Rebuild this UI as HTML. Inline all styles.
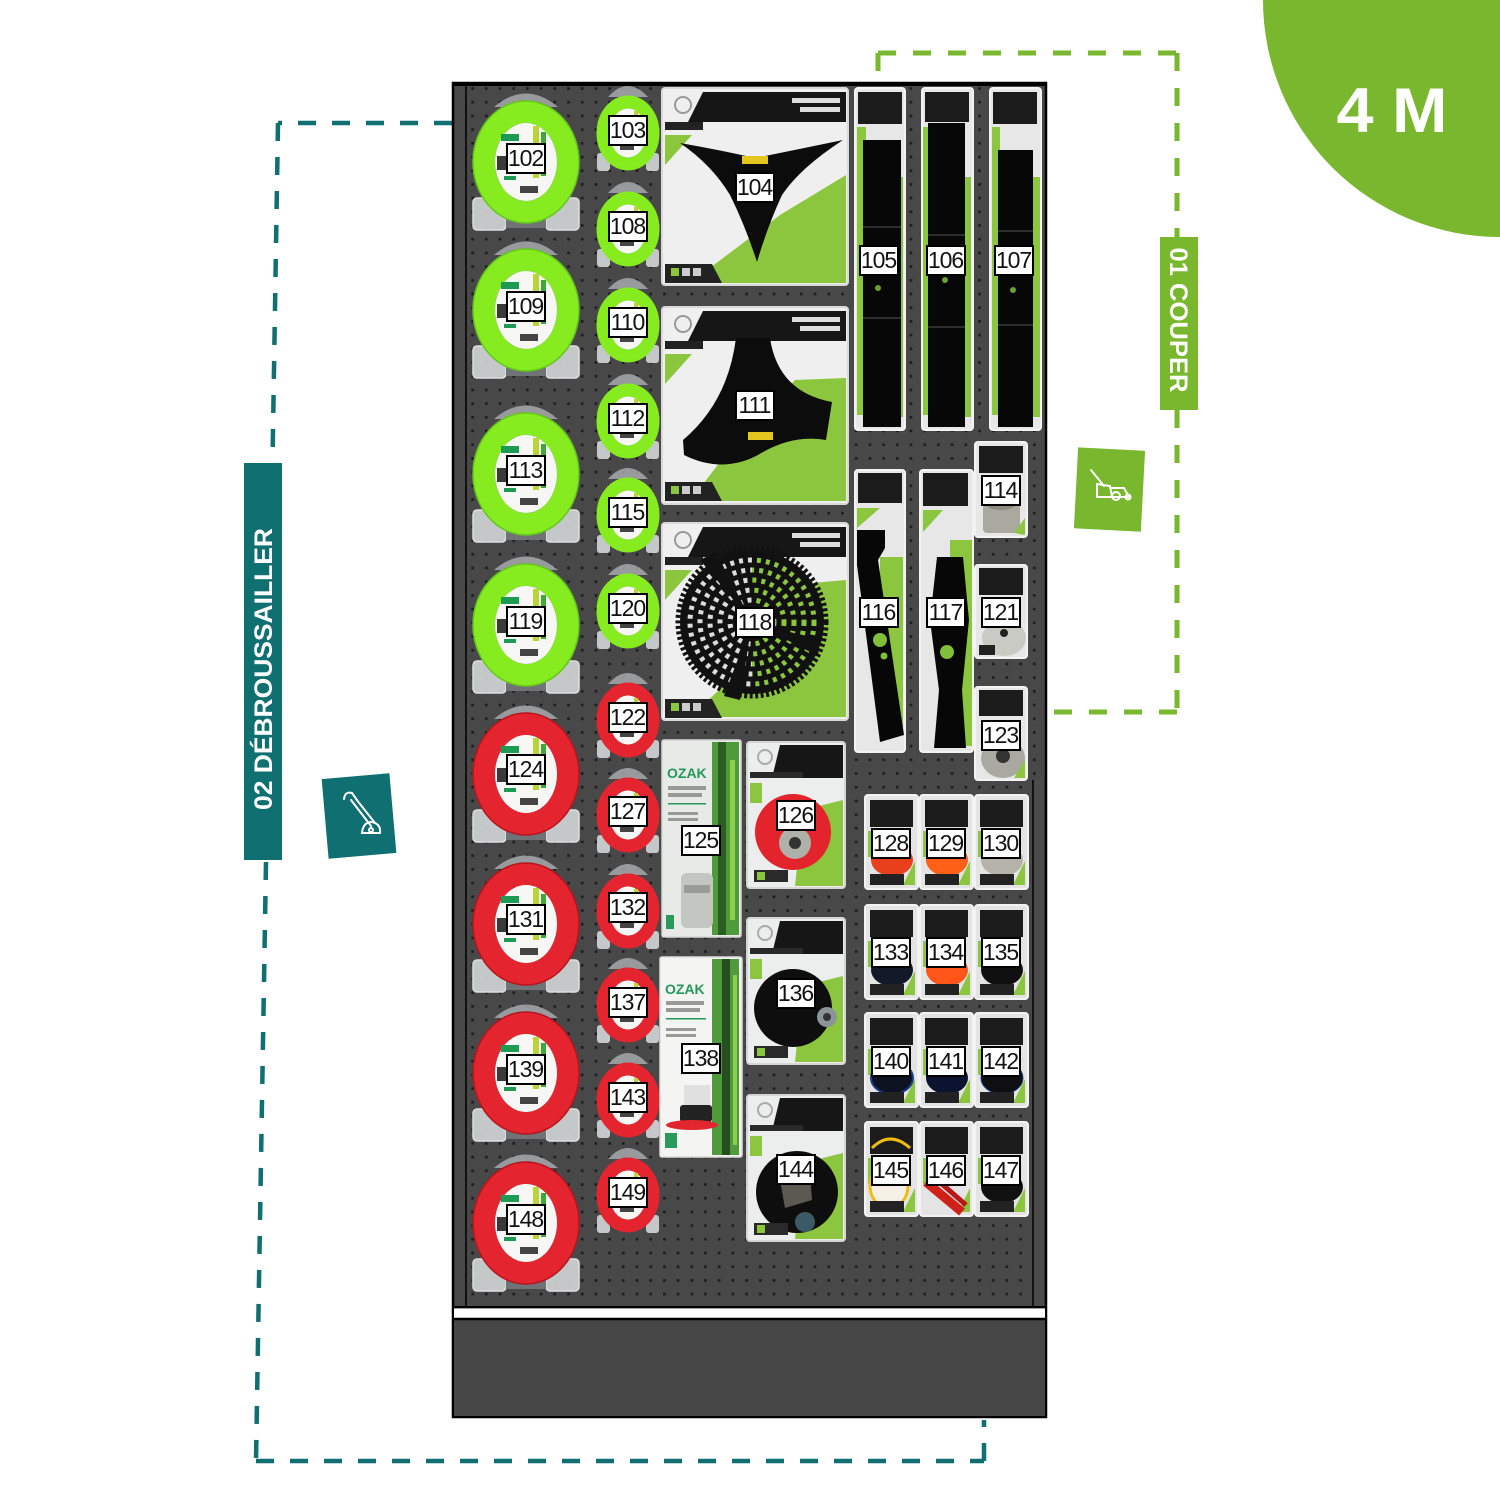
<!DOCTYPE html>
<html><head><meta charset="utf-8"><style>
html,body{margin:0;padding:0;background:#fff;}
.w{position:relative;width:1500px;height:1500px;overflow:hidden;}
svg{position:absolute;left:0;top:0;display:block;}
.w u{position:absolute;display:block;width:36px;height:27px;border:2px solid #000;background:#fff;text-decoration:none;font:23px/27px "Liberation Sans",Arial,sans-serif;color:#111;text-align:center;letter-spacing:-1px;text-indent:-1px;}
</style></head><body><div class="w">
<svg width="1500" height="1500" viewBox="0 0 1500 1500" xmlns="http://www.w3.org/2000/svg">
<defs>
<pattern id="peg" width="13.7" height="13.7" patternUnits="userSpaceOnUse"><rect x="5.5" y="5" width="2.6" height="2.6" fill="#1b1b1b"/></pattern>
<g id="bpk"><path d="M-32,-55 Q0,-82 32,-55 Z" fill="#a7aaad" opacity=".85"/><rect x="-53" y="36" width="33" height="32" rx="4" fill="#d3d6d8" stroke="#eef0f1" stroke-width="1.5" opacity=".9"/><rect x="20" y="36" width="33" height="32" rx="4" fill="#d3d6d8" stroke="#eef0f1" stroke-width="1.5" opacity=".9"/><rect x="-20" y="54" width="40" height="12" fill="#707376"/></g>
<g id="bctr"><ellipse rx="31" ry="39" fill="#f6f7f5"/><rect x="-25" y="-28" width="18" height="7" fill="#1d9b52"/><rect x="7" y="-36" width="6" height="52" fill="#b8d435"/><rect x="15" y="-30" width="5" height="44" fill="#3fa83a"/><rect x="-29" y="-6" width="9" height="14" fill="#3a3a3a"/><rect x="-22" y="14" width="12" height="4" fill="#1d9b52"/><rect x="-6" y="24" width="18" height="7" fill="#444"/></g>
<g id="BG"><use href="#bpk"/><ellipse rx="42" ry="50" fill="none" stroke="#86ec1f" stroke-width="22"/><ellipse rx="53" ry="61" fill="none" stroke="#63c71a" stroke-width="1.5"/><use href="#bctr"/></g>
<g id="BR"><use href="#bpk"/><ellipse rx="42" ry="50" fill="none" stroke="#e4242e" stroke-width="22"/><ellipse rx="53" ry="61" fill="none" stroke="#b8141e" stroke-width="1.5"/><use href="#bctr"/></g>
<g id="spk"><path d="M-20,-36 Q0,-58 20,-36 Z" fill="#a7aaad" opacity=".85"/><rect x="-31" y="20" width="13" height="18" rx="3" fill="#d3d6d8" opacity=".9"/><rect x="18" y="20" width="13" height="18" rx="3" fill="#d3d6d8" opacity=".9"/></g>
<g id="sctr"><ellipse rx="18.5" ry="24.5" fill="#f6f7f5"/><rect x="-14" y="-18" width="10" height="4" fill="#1d9b52"/><rect x="6" y="-22" width="4" height="32" fill="#b8d435"/><rect x="-8" y="12" width="14" height="5" fill="#444"/></g>
<g id="SG"><use href="#spk"/><ellipse rx="25" ry="31" fill="none" stroke="#86ec1f" stroke-width="13"/><use href="#sctr"/></g>
<g id="SR"><use href="#spk"/><ellipse rx="25" ry="31" fill="none" stroke="#e4242e" stroke-width="13"/><use href="#sctr"/></g>
<g id="cp"><rect width="186" height="197" rx="3" fill="#eeefee" stroke="#d9d9d9" stroke-width="2"/><path d="M3,47 L30,47 L3,77Z" fill="#8cc63f"/><path d="M41,4 L184,4 L184,34 L26,34Z" fill="#161616"/><rect x="3" y="34" width="38" height="8" fill="#222"/><circle cx="21" cy="17" r="8" fill="none" stroke="#999" stroke-width="2"/><rect x="130" y="10" width="48" height="5" fill="#ddd"/><rect x="138" y="19" width="40" height="5" fill="#ddd"/></g>
<g id="cb"><path d="M3,176 L50,176 L60,195 L3,195Z" fill="#222"/><rect x="9" y="180" width="8" height="8" fill="#8cc63f"/><rect x="20" y="180" width="8" height="8" fill="#ccc"/><rect x="31" y="180" width="8" height="8" fill="#ccc"/></g>
<g id="mp"><rect width="98" height="146" rx="3" fill="#eceded" stroke="#d5d5d5" stroke-width="2"/><path d="M56,68 L96,58 L96,144 L48,144Z" fill="#8cc63f"/><rect x="3" y="41" width="12" height="20" fill="#8cc63f"/><path d="M33,3 L96,3 L96,36 L25,36Z" fill="#161616"/><rect x="3" y="30" width="53" height="6" fill="#2a2a2a"/><circle cx="18" cy="15" r="7" fill="none" stroke="#aaa" stroke-width="2"/></g>
<g id="mb"><rect x="7" y="128" width="34" height="12" fill="#2a2a2a"/><rect x="10" y="130" width="8" height="8" fill="#8cc63f"/></g>
<g id="gp"><rect width="53" height="94" rx="3" fill="#e3e4e3" stroke="#f3f3f3" stroke-width="2"/><rect x="5" y="5" width="43" height="27" fill="#1b1b1b"/><rect x="3" y="36" width="6" height="26" fill="#8cc63f"/><path d="M38,90 L50,66 L50,90Z" fill="#8cc63f"/></g>
<g id="gb"><rect x="5" y="79" width="34" height="11" fill="#222"/></g>
<clipPath id="lh"><rect x="660" y="540" width="92" height="170"/></clipPath>
<clipPath id="rh"><rect x="752" y="540" width="96" height="170"/></clipPath>
</defs>

<path d="M1263,0 A237,237 0 0 0 1500,237 L1500,0 Z" fill="#78b72e"/>
<text x="1392" y="132" font-family="Liberation Sans, Arial, sans-serif" font-size="63" font-weight="bold" fill="#fff" text-anchor="middle" textLength="111" lengthAdjust="spacingAndGlyphs">4 M</text>

<g stroke="#0f6f71" stroke-width="4.5" fill="none" stroke-dasharray="18 16">
<path d="M452,123 L278,123"/><path d="M278,123 L272.5,462"/><path d="M266,862 L256,1461"/><path d="M256,1461 L984,1461"/><path d="M984,1461 L984,1420"/>
</g>
<rect x="244" y="463" width="38" height="397" fill="#0f6f71"/>
<text transform="translate(263,669) rotate(-90)" y="9" font-family="Liberation Sans, Arial, sans-serif" font-size="25" font-weight="bold" fill="#fff" text-anchor="middle" textLength="282" lengthAdjust="spacingAndGlyphs">02 DÉBROUSSAILLER</text>
<rect x="325" y="776" width="68" height="80" fill="#0f6f71" transform="rotate(-5 359 816)"/>
<g stroke="#fff" stroke-width="2" fill="none" stroke-linecap="round">
<path d="M344,799 Q345,791 352,793 L357,800"/><path d="M351,800 L371,826 M356,799 L375,823"/><path d="M362,833 Q363,822 372,822 Q381,824 380,833 Z"/><circle cx="371" cy="830" r="2"/>
</g>

<g stroke="#78b72e" stroke-width="5" fill="none" stroke-dasharray="18 17">
<path d="M878,53 L1177,53"/><path d="M878,53 L878,84"/><path d="M1177,53 L1177,237"/><path d="M1177,410 L1177,712"/><path d="M1177,712 L1046,712"/>
</g>
<rect x="1160" y="237" width="38" height="173" fill="#78b72e"/>
<text transform="translate(1179,320) rotate(90)" y="9" font-family="Liberation Sans, Arial, sans-serif" font-size="25" font-weight="bold" fill="#fff" text-anchor="middle" textLength="145" lengthAdjust="spacingAndGlyphs">01 COUPER</text>
<rect x="1076" y="449" width="67" height="81" fill="#78b72e" transform="rotate(3 1109 489)"/>
<g stroke="#fff" stroke-width="2" fill="none" stroke-linecap="round">
<path d="M1091,470 L1104,486"/><path d="M1097,484 L1110,486 L1112,497 L1097,497 Z"/><path d="M1110,488 L1124,488 L1129,497 L1112,497"/><circle cx="1116" cy="496" r="4"/><circle cx="1128" cy="497" r="2.5"/>
</g>

<rect x="453" y="83" width="593" height="1334" fill="#484848" stroke="#000" stroke-width="2.5"/>
<rect x="467" y="86" width="576" height="1220" fill="url(#peg)"/>
<rect x="1034" y="780" width="10" height="526" fill="#4b4b4b"/>
<path d="M1033,780 L1033,1307 M466,84 L466,1307" stroke="#111" stroke-width="2"/>
<path d="M453,84.5 L1046,84.5" stroke="#000" stroke-width="3"/>
<path d="M453,1307 L1046,1307" stroke="#000" stroke-width="2"/>
<rect x="454" y="1308.5" width="591" height="9.5" fill="#fff"/>
<path d="M453,1319 L1046,1319" stroke="#000" stroke-width="2.5"/>
<rect x="454" y="1320.5" width="591" height="95.5" fill="#474747"/>

<use href="#BG" x="526" y="162"/><use href="#BG" x="526" y="310"/><use href="#BG" x="526" y="474"/><use href="#BG" x="526" y="625"/>
<use href="#BR" x="526" y="774"/><use href="#BR" x="526" y="924"/><use href="#BR" x="526" y="1073"/><use href="#BR" x="526" y="1223"/>
<use href="#SG" x="628" y="133"/><use href="#SG" x="628" y="229"/><use href="#SG" x="628" y="325"/><use href="#SG" x="628" y="421"/><use href="#SG" x="628" y="515"/><use href="#SG" x="628" y="611"/>
<use href="#SR" x="628" y="720"/><use href="#SR" x="628" y="815"/><use href="#SR" x="628" y="911"/><use href="#SR" x="628" y="1005"/><use href="#SR" x="628" y="1100"/><use href="#SR" x="628" y="1195"/>

<use href="#cp" x="662" y="88"/>
<path d="M780,215 L846,175 L846,283 L690,283 Z" fill="#8cc63f"/>
<path d="M680,143 Q720,150 755,158 Q795,150 843,140 Q800,168 782,195 Q768,225 757,262 Q745,225 730,195 Q712,165 680,143 Z" fill="#0c0c0c"/>
<rect x="742" y="156" width="26" height="8" fill="#e3c51d"/>
<use href="#cb" x="662" y="88"/>

<use href="#cp" x="662" y="307"/>
<path d="M795,380 L846,378 L846,501 L690,501 L720,462 Z" fill="#8cc63f"/>
<path d="M736,338 L770,338 Q778,392 832,402 L826,440 Q792,434 758,455 Q722,474 684,455 L683,440 Q728,402 736,338 Z" fill="#0c0c0c"/>
<rect x="748" y="432" width="25" height="8" fill="#e3c51d"/>
<use href="#cb" x="662" y="306"/>

<use href="#cp" x="662" y="523"/>
<path d="M790,585 L846,580 L846,717 L690,717 L730,680 Z" fill="#8cc63f"/>
<circle cx="752" cy="622" r="74" fill="none" stroke="#111" stroke-width="5" stroke-dasharray="3 2.5"/>
<circle cx="752" cy="622" r="72" fill="#111"/>
<g clip-path="url(#lh)" fill="none" stroke="#dcdcdc" stroke-width="5" stroke-dasharray="4 5"><circle cx="752" cy="622" r="62"/><circle cx="752" cy="622" r="52"/><circle cx="752" cy="622" r="42"/><circle cx="752" cy="622" r="32"/><circle cx="752" cy="622" r="22"/></g>
<g clip-path="url(#rh)" fill="none" stroke="#8cc63f" stroke-width="5" stroke-dasharray="4 5"><circle cx="752" cy="622" r="62"/><circle cx="752" cy="622" r="52"/><circle cx="752" cy="622" r="42"/><circle cx="752" cy="622" r="32"/><circle cx="752" cy="622" r="22"/></g>
<path d="M752,622 L700,560 L716,552 Z M752,622 L820,640 L818,656 Z M752,622 L740,700 L724,696 Z" fill="#111"/>
<circle cx="752" cy="622" r="12" fill="#111"/>
<use href="#cb" x="662" y="523"/>

<rect x="662" y="740" width="79" height="197" rx="2" fill="#e8eae7" stroke="#d5d7d4" stroke-width="1.5"/>
<rect x="712" y="742" width="27" height="193" fill="#4f9a3a"/><rect x="718" y="742" width="8" height="193" fill="#2a5e22"/><rect x="730" y="760" width="5" height="160" fill="#8ccf4a"/>
<text x="667" y="778" font-family="Liberation Sans, Arial, sans-serif" font-size="14" font-weight="bold" fill="#22985a">OZAK</text>
<path d="M668,786 h38 v4 h-38Z M668,793 h34 v4 h-34Z M668,812 h30 v3 h-30Z M668,818 h30 v3 h-30Z" fill="#999"/>
<rect x="668" y="803" width="38" height="1.5" fill="#22985a"/>
<rect x="681" y="873" width="32" height="55" rx="6" fill="#c4c6c2"/><rect x="684" y="885" width="26" height="8" fill="#9a9c98"/>
<rect x="666" y="915" width="8" height="14" fill="#2a9a5a"/>

<rect x="660" y="957" width="82" height="200" rx="2" fill="#f4f5f3" stroke="#dcdedb" stroke-width="1.5"/>
<rect x="712" y="959" width="27" height="196" fill="#4f9a3a"/><rect x="722" y="959" width="8" height="196" fill="#264f20"/><rect x="733" y="975" width="4" height="170" fill="#8ccf4a"/>
<text x="665" y="994" font-family="Liberation Sans, Arial, sans-serif" font-size="14" font-weight="bold" fill="#22985a">OZAK</text>
<path d="M666,1001 h38 v4 h-38Z M666,1008 h34 v4 h-34Z M666,1028 h30 v3 h-30Z M666,1034 h30 v3 h-30Z" fill="#999"/>
<rect x="666" y="1018" width="40" height="1.5" fill="#22985a"/>
<rect x="684" y="1085" width="26" height="22" fill="#e0e0e0"/><rect x="680" y="1105" width="32" height="17" rx="3" fill="#222"/>
<ellipse cx="692" cy="1125" rx="26" ry="5" fill="#e2262e"/><rect x="665" y="1133" width="12" height="15" fill="#2a9a5a"/>

<use href="#mp" x="747" y="742"/>
<circle cx="793" cy="832" r="38" fill="#e3242c"/><circle cx="795" cy="843" r="16" fill="#b0b0aa"/><circle cx="795" cy="843" r="6" fill="#333"/>
<use href="#mb" x="747" y="742"/>
<use href="#mp" x="747" y="918"/>
<circle cx="793" cy="1008" r="39" fill="#0e0e0e"/><circle cx="827" cy="1017" r="10" fill="#8c9498"/><circle cx="827" cy="1017" r="4" fill="#333"/>
<use href="#mb" x="747" y="918"/>
<use href="#mp" x="747" y="1095"/>
<circle cx="797" cy="1192" r="41" fill="#0e0e0e"/><path d="M780,1180 L810,1172 L812,1200 L785,1208 Z" fill="#5a5a52"/><circle cx="805" cy="1222" r="10" fill="#3b5a66"/>
<use href="#mb" x="747" y="1095"/>

<rect x="855" y="88" width="50" height="342" rx="3" fill="#e6e7e6" stroke="#f3f3f3" stroke-width="2"/>
<rect x="858" y="92" width="44" height="32" fill="#1b1b1b"/><rect x="857" y="127" width="9" height="288" fill="#8cc63f"/><rect x="896" y="177" width="7" height="240" fill="#8cc63f"/>
<rect x="863" y="140" width="38" height="287" fill="#070707"/><path d="M863,227 H901 M863,318 H901" stroke="#555"/><circle cx="878" cy="288" r="3" fill="#6aa030"/>
<rect x="922" y="88" width="51" height="342" rx="3" fill="#e6e7e6" stroke="#f3f3f3" stroke-width="2"/>
<rect x="925" y="92" width="44" height="30" fill="#1b1b1b"/><rect x="923" y="127" width="8" height="288" fill="#8cc63f"/><rect x="963" y="177" width="8" height="240" fill="#8cc63f"/>
<rect x="928" y="123" width="37" height="304" fill="#070707"/><path d="M928,235 H965 M928,327 H965" stroke="#555"/><circle cx="945" cy="280" r="3" fill="#6aa030"/>
<rect x="990" y="88" width="51" height="342" rx="3" fill="#e6e7e6" stroke="#f3f3f3" stroke-width="2"/>
<rect x="993" y="92" width="44" height="32" fill="#1b1b1b"/><rect x="992" y="127" width="8" height="288" fill="#8cc63f"/><rect x="1032" y="177" width="8" height="240" fill="#8cc63f"/>
<rect x="998" y="150" width="35" height="277" fill="#070707"/><path d="M998,231 H1033 M998,325 H1033" stroke="#555"/><circle cx="1013" cy="290" r="3" fill="#6aa030"/>

<rect x="855" y="470" width="50" height="282" rx="3" fill="#e6e7e6" stroke="#f3f3f3" stroke-width="2"/>
<rect x="858" y="473" width="44" height="30" fill="#1b1b1b"/><path d="M857,508 L880,508 L857,528Z" fill="#8cc63f"/><rect x="880" y="557" width="23" height="177" fill="#8cc63f"/>
<path d="M857,530 L885,530 L885,548 L878,560 L904,735 L880,742 L857,565 Z" fill="#070707"/>
<circle cx="880" cy="640" r="7" fill="#7fbf3a"/><circle cx="884" cy="656" r="3.5" fill="#7fbf3a"/>
<rect x="920" y="470" width="53" height="282" rx="3" fill="#e6e7e6" stroke="#f3f3f3" stroke-width="2"/>
<rect x="923" y="473" width="45" height="33" fill="#1b1b1b"/><path d="M923,510 L943,510 L923,532Z" fill="#8cc63f"/><rect x="950" y="540" width="22" height="206" fill="#8cc63f"/>
<path d="M937,557 L963,557 L969,620 L962,690 L966,748 L934,748 L939,690 L930,620 Z" fill="#070707"/><circle cx="947" cy="652" r="7" fill="#7fbf3a"/>

<rect x="975" y="442" width="52" height="95" rx="3" fill="#e6e7e6" stroke="#f3f3f3" stroke-width="2"/>
<rect x="979" y="446" width="44" height="27" fill="#1b1b1b"/><rect x="983" y="503" width="37" height="30" rx="4" fill="#aaa99f"/><ellipse cx="1001" cy="505" rx="14" ry="5" fill="#8a8a82"/><path d="M1014,533 L1025,518 L1025,535Z" fill="#8cc63f"/>
<rect x="975" y="565" width="52" height="93" rx="3" fill="#e6e7e6" stroke="#f3f3f3" stroke-width="2"/>
<rect x="979" y="568" width="44" height="27" fill="#1b1b1b"/><ellipse cx="1004" cy="638" rx="22" ry="18" fill="#cacac4"/><circle cx="1004" cy="633" r="4" fill="#222"/><rect x="979" y="645" width="16" height="10" fill="#222"/>
<rect x="975" y="687" width="52" height="93" rx="3" fill="#e6e7e6" stroke="#f3f3f3" stroke-width="2"/>
<rect x="979" y="690" width="44" height="26" fill="#1b1b1b"/><ellipse cx="1003" cy="758" rx="22" ry="20" fill="#a9a9a2"/><circle cx="1003" cy="756" r="7" fill="#333"/><path d="M1014,778 L1025,760 L1025,778Z" fill="#8cc63f"/>

<use href="#gp" x="865" y="795"/><use href="#gp" x="920" y="795"/><use href="#gp" x="975" y="795"/>
<use href="#gp" x="865" y="905"/><use href="#gp" x="920" y="905"/><use href="#gp" x="975" y="905"/>
<use href="#gp" x="865" y="1013"/><use href="#gp" x="920" y="1013"/><use href="#gp" x="975" y="1013"/>
<use href="#gp" x="865" y="1122"/><use href="#gp" x="920" y="1122"/><use href="#gp" x="975" y="1122"/>
<ellipse cx="892" cy="860" rx="21" ry="16" fill="#e8401c"/><ellipse cx="947" cy="860" rx="21" ry="16" fill="#ff5f17"/><ellipse cx="1002" cy="860" rx="21" ry="16" fill="#b5b3aa"/>
<ellipse cx="892" cy="970" rx="21" ry="16" fill="#121a2a"/><ellipse cx="947" cy="970" rx="21" ry="16" fill="#ff5518"/><ellipse cx="1002" cy="970" rx="21" ry="16" fill="#101010"/>
<ellipse cx="892" cy="1078" rx="21" ry="16" fill="#0d1220" stroke="#1a3a8a" stroke-width="2"/><ellipse cx="947" cy="1078" rx="21" ry="16" fill="#0b1330"/><ellipse cx="1002" cy="1078" rx="21" ry="16" fill="#0f0f12" stroke="#1a3a8a"/>
<ellipse cx="889" cy="1186" rx="19" ry="22" fill="#f4f0e6" stroke="#f0bc10" stroke-width="3"/><path d="M872,1148 Q890,1130 910,1148" fill="none" stroke="#f0bc10" stroke-width="3"/>
<path d="M926,1182 L962,1212" stroke="#d0201a" stroke-width="9"/><path d="M935,1178 L966,1205" stroke="#b81818" stroke-width="5"/>
<ellipse cx="1002" cy="1187" rx="21" ry="16" fill="#111"/>
<use href="#gb" x="865" y="795"/><use href="#gb" x="920" y="795"/><use href="#gb" x="975" y="795"/>
<use href="#gb" x="865" y="905"/><use href="#gb" x="920" y="905"/><use href="#gb" x="975" y="905"/>
<use href="#gb" x="865" y="1013"/><use href="#gb" x="920" y="1013"/><use href="#gb" x="975" y="1013"/>
<use href="#gb" x="865" y="1122"/><use href="#gb" x="975" y="1122"/>
</svg>
<u style="left:506px;top:143px">102</u><u style="left:608px;top:115px">103</u><u style="left:735px;top:172px">104</u>
<u style="left:859px;top:245px">105</u><u style="left:926px;top:245px">106</u><u style="left:994px;top:245px">107</u>
<u style="left:608px;top:211px">108</u><u style="left:506px;top:291px">109</u><u style="left:608px;top:307px">110</u>
<u style="left:735px;top:390px">111</u><u style="left:608px;top:403px">112</u><u style="left:506px;top:455px">113</u>
<u style="left:981px;top:475px">114</u><u style="left:608px;top:497px">115</u><u style="left:859px;top:597px">116</u>
<u style="left:926px;top:597px">117</u><u style="left:735px;top:607px">118</u><u style="left:506px;top:606px">119</u>
<u style="left:608px;top:593px">120</u><u style="left:981px;top:597px">121</u><u style="left:608px;top:702px">122</u>
<u style="left:981px;top:720px">123</u><u style="left:506px;top:754px">124</u><u style="left:681px;top:825px">125</u>
<u style="left:776px;top:800px">126</u><u style="left:608px;top:796px">127</u><u style="left:871px;top:828px">128</u>
<u style="left:926px;top:828px">129</u><u style="left:981px;top:828px">130</u><u style="left:506px;top:904px">131</u>
<u style="left:608px;top:892px">132</u><u style="left:871px;top:937px">133</u><u style="left:926px;top:937px">134</u>
<u style="left:981px;top:937px">135</u><u style="left:776px;top:978px">136</u><u style="left:608px;top:987px">137</u>
<u style="left:681px;top:1043px">138</u><u style="left:506px;top:1054px">139</u><u style="left:871px;top:1046px">140</u>
<u style="left:926px;top:1046px">141</u><u style="left:981px;top:1046px">142</u><u style="left:608px;top:1082px">143</u>
<u style="left:776px;top:1154px">144</u><u style="left:871px;top:1155px">145</u><u style="left:926px;top:1155px">146</u>
<u style="left:981px;top:1155px">147</u><u style="left:506px;top:1204px">148</u><u style="left:608px;top:1177px">149</u>
</div></body></html>
